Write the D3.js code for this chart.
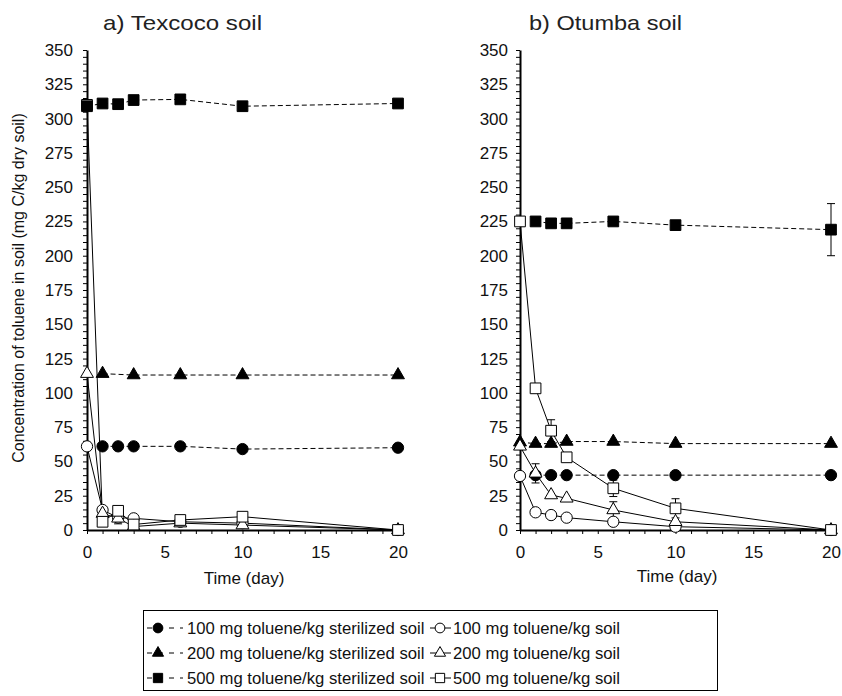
<!DOCTYPE html>
<html>
<head>
<meta charset="utf-8">
<script src="https://cdn.jsdelivr.net/npm/d3@7"></script>
<style>
  body { margin: 0; background: #fff; }
  svg { font-family: "Liberation Sans", Arial, sans-serif; }
</style>
</head>
<body>
<svg id="chart" width="842" height="696"></svg>
<script>
// sampling days
var times = [0, 1, 2, 3, 6, 10, 20];

// a) Texcoco soil
var texSter100 = [null, 61, 61, 61, 61, 59, 60];
var texSter200 = [null, 114, null, 113, 113, 113, 113];
var texSter500 = [309, 311, 310.5, 313.5, 314, 309, 311];
var texSoil100 = [61, 14.6, 9, 8.5, 6, 5, 0];
var texSoil200 = [114, 12, 8.5, 2.5, 5, 3.6, 0];
var texSoil500 = [310, 6, 14, 4, 7.3, 9.7, 0];
var texErr200 = [0, 0, 4, 0, 0, 0, 0];

// b) Otumba soil
var otuSter100 = [null, 40, 40, 40, 40, 40, 40];
var otuSter200 = [64, 63, 63, 64.5, 64.5, 63, 63];
var otuSter500 = [null, 225, 223.6, 223.6, 225, 222.3, 219];
var otuSoil100 = [39.4, 12.9, 10.9, 9, 6, 2.4, 0];
var otuSoil200 = [61, 41.3, 25.5, 23.1, 14.6, 6, 0];
var otuSoil500 = [225, 103.3, 72.4, 53, 30.4, 15.8, 0];
var otuErr500s = [0, 0, 0, 0, 0, 0, 19];
var otuErr200 = [0, 7, 0, 0, 6, 0, 0];
var otuErr500 = [0, 0, 8, 0, 6, 7, 0];

var yTicks = d3.range(0, 351, 5);
var xTicks = d3.range(0, 21, 1);

var legendLabels = [
    "100 mg toluene/kg sterilized soil", "100 mg toluene/kg soil",
    "200 mg toluene/kg sterilized soil", "200 mg toluene/kg soil",
    "500 mg toluene/kg sterilized soil", "500 mg toluene/kg soil"
];

const svg = d3.select("#chart");

// shape and style per series kind
function style(shape, filled, dashed) {
    return {shape: shape, fill: filled ? "#000" : "#fff", dash: dashed ? "5,3" : null};
}
const S100 = style(d3.symbolCircle, true, true),
      S200 = style(d3.symbolTriangle, true, true),
      S500 = style(d3.symbolSquare, true, true),
      O100 = style(d3.symbolCircle, false, false),
      O200 = style(d3.symbolTriangle, false, false),
      O500 = style(d3.symbolSquare, false, false);

function symSize(shape) {
    if (shape === d3.symbolCircle) return 100;
    if (shape === d3.symbolTriangle) return 72;
    return 115;
}

function drawPanel(opt) {
    const x = d3.scaleLinear().domain([0, 20]).range([opt.left, opt.left + 311]);
    const y = d3.scaleLinear().domain([0, 350]).range([530, 50]);
    const g = svg.append("g");

    // axes
    const ya = g.append("g").attr("transform", `translate(${opt.left},0)`)
        .call(d3.axisLeft(y).tickValues(yTicks).tickSize(4).tickSizeOuter(0)
            .tickFormat(d => d % 25 === 0 ? d : ""));
    const xa = g.append("g").attr("transform", "translate(0,530)")
        .call(d3.axisBottom(x).tickValues(xTicks).tickSize(4).tickSizeOuter(0)
            .tickFormat(d => d % 5 === 0 ? d : ""));
    [ya, xa].forEach(a => {
        a.select(".domain").attr("stroke-width", 2);
        a.selectAll("text").attr("font-size", 17).attr("fill", "#111")
            .attr("font-family", "Liberation Sans, Arial, sans-serif");
    });
    ya.selectAll("text").attr("x", -opt.yLabelGap);
    xa.selectAll("text").attr("y", 16);

    g.append("text").attr("x", opt.titleX).attr("y", 30)
        .attr("font-size", 21).attr("fill", "#222")
        .attr("textLength", opt.titleW).attr("lengthAdjust", "spacingAndGlyphs")
        .text(opt.title);
    g.append("text").attr("x", opt.left + 157).attr("y", opt.xLabelY)
        .attr("text-anchor", "middle").attr("font-size", 17).attr("fill", "#111")
        .text("Time (day)");

    const line = d3.line().x(d => x(d.t)).y(d => y(d.v));
    const pts = s => times.map((t, i) => ({t: t, v: s.data[i], e: s.err ? s.err[i] : 0}))
        .filter(d => d.v != null);

    // lines first
    opt.series.forEach(s => {
        g.append("path").datum(pts(s)).attr("d", line)
            .attr("fill", "none").attr("stroke", "#000").attr("stroke-width", 1)
            .attr("stroke-dasharray", s.st.dash);
    });
    // error bars
    opt.series.forEach(s => {
        pts(s).filter(d => d.e > 0).forEach(d => {
            const eb = g.append("g").attr("stroke", "#000").attr("stroke-width", 1);
            eb.append("line").attr("x1", x(d.t)).attr("x2", x(d.t))
                .attr("y1", y(d.v - d.e)).attr("y2", y(d.v + d.e));
            [d.v - d.e, d.v + d.e].forEach(v => {
                eb.append("line").attr("x1", x(d.t) - 4).attr("x2", x(d.t) + 4)
                    .attr("y1", y(v)).attr("y2", y(v));
            });
        });
    });
    // markers
    opt.series.forEach(s => {
        g.selectAll(null).data(pts(s)).enter().append("path")
            .attr("d", d3.symbol().type(s.st.shape).size(symSize(s.st.shape)))
            .attr("transform", d => `translate(${x(d.t)},${y(d.v)})`)
            .attr("fill", s.st.fill).attr("stroke", "#000").attr("stroke-width", 1);
    });
}

drawPanel({
    left: 87, title: "a) Texcoco soil", titleX: 103, titleW: 159,
    yLabelGap: 14, xLabelY: 584,
    series: [
        {data: texSter100, st: S100},
        {data: texSter200, st: S200},
        {data: texSoil100, st: O100},
        {data: texSoil200, st: O200, err: texErr200},
        {data: texSoil500, st: O500},
        {data: texSter500, st: S500}
    ]
});

drawPanel({
    left: 520, title: "b) Otumba soil", titleX: 529, titleW: 153,
    yLabelGap: 12, xLabelY: 582,
    series: [
        {data: otuSter100, st: S100},
        {data: otuSter200, st: S200},
        {data: otuSoil100, st: O100},
        {data: otuSoil200, st: O200, err: otuErr200},
        {data: otuSoil500, st: O500, err: otuErr500},
        {data: otuSter500, st: S500, err: otuErr500s}
    ]
});

// y axis title
svg.append("text").attr("transform", "translate(24,288) rotate(-90)")
    .attr("text-anchor", "middle").attr("font-size", 16).attr("fill", "#111")
    .text("Concentration of toluene in soil (mg C/kg dry soil)");

// legend
const lg = svg.append("g");
lg.append("rect").attr("x", 143.5).attr("y", 610.5).attr("width", 574).attr("height", 80)
    .attr("fill", "#fff").attr("stroke", "#000").attr("stroke-width", 1);
const legendStyles = [S100, O100, S200, O200, S500, O500];
legendStyles.forEach((st, i) => {
    const col = i % 2, row = Math.floor(i / 2);
    const cy = 628 + row * 25;
    const x0 = col === 0 ? 147 : 430;
    const w = col === 0 ? 36 : 21;
    lg.append("line").attr("x1", x0).attr("x2", x0 + w).attr("y1", cy).attr("y2", cy)
        .attr("stroke", "#000").attr("stroke-width", 1)
        .attr("stroke-dasharray", col === 0 ? "5,6" : null);
    lg.append("path").attr("d", d3.symbol().type(st.shape).size(symSize(st.shape) * 0.75))
        .attr("transform", `translate(${x0 + (col === 0 ? 11 : 10)},${cy})`)
        .attr("fill", st.fill).attr("stroke", "#000").attr("stroke-width", 1);
    lg.append("text").attr("x", col === 0 ? 187 : 453).attr("y", cy + 6)
        .attr("font-size", 16.7).attr("fill", "#111")
        .text(legendLabels[i]);
});
</script>
</body>
</html>
